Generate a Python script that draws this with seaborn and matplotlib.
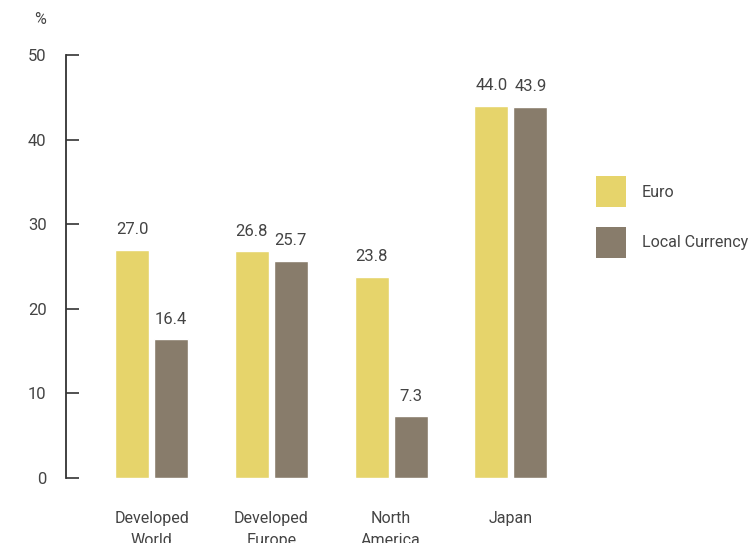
import matplotlib
matplotlib.use("Agg")
import matplotlib.pyplot as plt
import seaborn as sns
import pandas as pd
from matplotlib.patches import Patch

categories = ["Developed\nWorld", "Developed\nEurope", "North\nAmerica", "Japan"]
series_names = ["Euro", "Local Currency"]
euro_values = [27.0, 26.8, 23.8, 44.0]
local_values = [16.4, 25.7, 7.3, 43.9]
y_ticks = [0, 10, 20, 30, 40, 50]

colors = {"Euro": "#E6D46B", "Local Currency": "#887C6B"}
text_color = "#444444"

df = pd.DataFrame({
    "region": categories * 2,
    "series": [series_names[0]] * len(categories) + [series_names[1]] * len(categories),
    "value": euro_values + local_values,
})

sns.set_theme(style="white")
plt.rcParams["font.family"] = ["Roboto", "DejaVu Sans"]

fig = plt.figure(figsize=(7.48, 5.43), dpi=100)
ax = fig.add_axes([66 / 748, 1 - 478 / 543, (560 - 66) / 748, (478 - 55) / 543])

sns.barplot(data=df, x="region", y="value", hue="series", order=categories,
            hue_order=series_names, palette=colors, width=0.652, gap=0.13,
            saturation=1, legend=False, ax=ax)

for container in ax.containers:
    ax.bar_label(container, fmt="%.1f", padding=9, fontsize=12, color=text_color)

ax.set_ylim(0, 50)
ax.set_xlim(-0.714, 3.41)
ax.set_yticks(y_ticks)
ax.set_xlabel("")
ax.set_ylabel("")

for side in ["top", "right", "bottom"]:
    ax.spines[side].set_visible(False)
ax.spines["left"].set_color("#333333")
ax.spines["left"].set_linewidth(1.3)

ax.tick_params(axis="y", direction="in", length=9, width=1.2, color="#333333",
               pad=14, labelsize=12, labelcolor=text_color, left=True)
ax.tick_params(axis="x", length=0, pad=24, labelsize=11.5, labelcolor=text_color)
for lbl in ax.get_xticklabels():
    lbl.set_verticalalignment("top")
    lbl.set_linespacing(1.55)

fig.text(40 / 748, 1 - 20 / 543, "%", ha="center", va="center",
         fontsize=11.5, color=text_color)

handles = [Patch(facecolor=colors[s], edgecolor="none", label=s) for s in series_names]
fig.legend(handles=handles, loc="upper left", bbox_to_anchor=(588 / 748, 1 - 168 / 543),
           frameon=False, fontsize=11.5, labelcolor=text_color,
           handlelength=1.87, handleheight=2.65, labelspacing=1.2, handletextpad=1.0,
           borderaxespad=0, borderpad=0.5)

fig.savefig("out.png", dpi=100)
